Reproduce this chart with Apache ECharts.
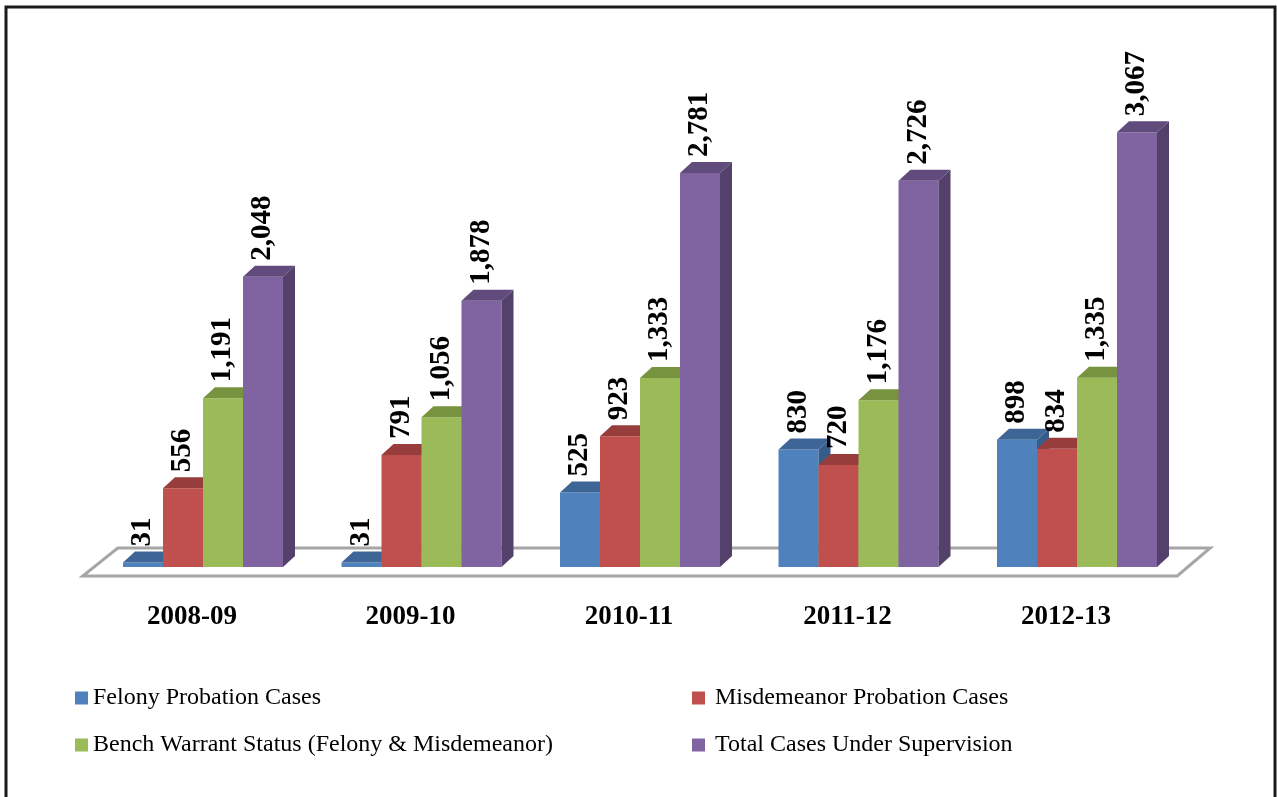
<!DOCTYPE html>
<html lang="en">
<head>
    <meta charset="UTF-8">
    <title>Cases Under Supervision</title>
    <script src="https://cdn.jsdelivr.net/npm/echarts/dist/echarts.min.js"></script>
    <style>
        html, body { margin: 0; padding: 0; background: #fff; }
        #chart { width: 1277px; height: 797px; }
    </style>
</head>
<body>
<div id="chart"></div>
<script>
    // data
    var years = ['2008-09', '2009-10', '2010-11', '2011-12', '2012-13'];
    var felony = [31, 31, 525, 830, 898];
    var misdemeanor = [556, 791, 923, 720, 834];
    var bench = [1191, 1056, 1333, 1176, 1335];
    var total = [2048, 1878, 2781, 2726, 3067];

    var names = [
        'Felony Probation Cases',
        'Misdemeanor Probation Cases',
        'Bench Warrant Status (Felony & Misdemeanor)',
        'Total Cases Under Supervision'
    ];
    var values = [felony, misdemeanor, bench, total];

    // front / top / side colours for the fake 3d bars
    var front = ['#4F81BD', '#C0504D', '#9BBB59', '#8064A2'];
    var topc = ['#3D6697', '#973E3C', '#78933F', '#604B7C'];
    var side = ['#375C89', '#8A3836', '#6E883A', '#53416B'];

    var BAR_RATIO = 40 / 218.5;
    var DX = 12, DY = 11;

    function fmt(v) {
        return String(v).replace(/\B(?=(\d{3})+(?!\d))/g, ',');
    }

    function renderFloor(params, api) {
        var cs = params.coordSys;
        var y0 = api.coord([0, 0])[1];
        var l = cs.x, r = cs.x + cs.width;
        return {
            type: 'polygon',
            shape: {
                points: [[l - 11, y0 + 9], [r - 9, y0 + 9], [r + 24, y0 - 19], [l + 24, y0 - 19]]
            },
            style: { fill: '#fff', stroke: '#A6A6A6', lineWidth: 3 },
            silent: true
        };
    }

    function makeRender(k) {
        return function (params, api) {
            var base = api.coord([api.value(0), 0]);
            var top = api.coord([api.value(0), api.value(1)]);
            var w = api.size([1, 0])[0] * BAR_RATIO;
            var x0 = base[0] - 2 * w + k * w;
            var x1 = x0 + w;
            var yt = top[1], yb = base[1];
            return {
                type: 'group',
                children: [
                    {
                        type: 'rect',
                        shape: { x: x0, y: yt, width: w, height: yb - yt },
                        style: { fill: front[k] }
                    },
                    {
                        type: 'polygon',
                        shape: { points: [[x0, yt], [x0 + DX, yt - DY], [x1 + DX, yt - DY], [x1, yt]] },
                        style: { fill: topc[k] }
                    },
                    {
                        type: 'polygon',
                        shape: { points: [[x1, yt], [x1 + DX, yt - DY], [x1 + DX, yb - DY], [x1, yb]] },
                        style: { fill: side[k] }
                    },
                    {
                        type: 'text',
                        x: x0 + w / 2,
                        y: yt - 16,
                        rotation: Math.PI / 2,
                        style: {
                            text: fmt(api.value(1)),
                            fill: '#000',
                            font: 'bold 29px "Liberation Serif"',
                            textAlign: 'left',
                            textVerticalAlign: 'middle'
                        }
                    }
                ]
            };
        };
    }

    var series = [{
        type: 'custom',
        renderItem: renderFloor,
        data: [[0, 0]],
        silent: true,
        z: 1
    }];
    for (var k = 0; k < 4; k++) {
        series.push({
            name: names[k],
            type: 'custom',
            renderItem: makeRender(k),
            itemStyle: { color: front[k] },
            data: values[k].map(function (v, i) { return [i, v]; }),
            z: 2
        });
    }

    var legendText = { fontFamily: 'Liberation Serif', fontSize: 24, color: '#000' };
    var legendPos = [[75, 686], [692, 686], [75, 733], [692, 733]];
    var legends = names.map(function (n, i) {
        return {
            data: [n],
            left: legendPos[i][0],
            top: legendPos[i][1],
            padding: 0,
            itemWidth: 13,
            itemHeight: 13,
            icon: 'rect',
            selectedMode: false,
            textStyle: i % 2 ? Object.assign({ padding: [0, 0, 0, 5] }, legendText) : legendText
        };
    });

    var myChart = echarts.init(document.getElementById('chart'));
    myChart.setOption({
        animation: false,
        graphic: [{
            type: 'rect',
            shape: { x: 6, y: 7, width: 1269, height: 800 },
            style: { fill: 'none', stroke: '#1a1a1a', lineWidth: 3 },
            silent: true
        }],
        legend: legends,
        grid: { left: 93.75, right: 90.75, top: 71, bottom: 230 },
        xAxis: {
            type: 'category',
            data: years,
            axisLine: { show: false },
            axisTick: { show: false },
            axisLabel: {
                margin: 37,
                padding: [0, 22, 0, 0],
                fontFamily: 'Liberation Serif',
                fontWeight: 'bold',
                fontSize: 27,
                color: '#000'
            }
        },
        yAxis: {
            type: 'value',
            min: 0,
            max: 3500,
            show: false
        },
        series: series
    });
</script>
</body>
</html>
